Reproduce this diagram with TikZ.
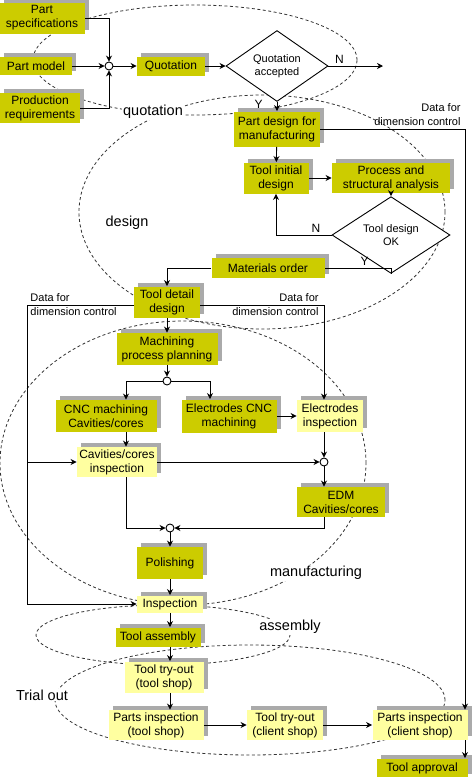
\documentclass[tikz,border=0pt]{standalone}
\usepackage{fontspec}
\setmainfont{Liberation Sans}
\usetikzlibrary{shapes.geometric}
\usetikzlibrary{shadows}
\usetikzlibrary{arrows.meta}

\definecolor{olivebox}{RGB}{204,204,0}
\definecolor{paleyellow}{RGB}{255,255,160}
\definecolor{shadowgrey}{RGB}{170,170,170}

\begin{document}
\begin{tikzpicture}[x=1pt, y=-1pt, ->,
            >={Stealth[length=6pt,width=6pt]},
            line width=0.9pt,
            font=\fontsize{12}{14}\selectfont,
            box/.style = {fill=olivebox,align=center,inner sep=1pt,
                general shadow={fill=shadowgrey,shadow xshift=4pt,shadow yshift=4pt}},
            inbox/.style = {box,fill=paleyellow},
            sz/.style 2 args = {minimum width=#1pt,minimum height=#2pt},
            decide/.style = {diamond,draw,fill=white,inner sep=0pt,align=center,
                font=\fontsize{11}{13}\selectfont},
            junction/.style = {circle,draw,fill=white,inner sep=0pt,minimum size=8pt},
            phase/.style = {-,line width=0.8pt,dash pattern=on 3pt off 2.5pt,black!80},
            phaselabel/.style = {fill=white,inner sep=1pt,font=\fontsize{14.5}{16}\selectfont},
            note/.style = {inner sep=1pt,font=\fontsize{11}{14}\selectfont},
            yn/.style = {inner sep=2pt}]
            \useasboundingbox (0,0) rectangle (474,777);
            % phases
            \draw[phase] (195,60) ellipse [x radius=162pt, y radius=55pt];
            \draw[phase] (262,212) ellipse [x radius=183pt, y radius=117pt];
            \draw[phase] (183,463) ellipse [x radius=183pt, y radius=142pt];
            \draw[phase] (163,635) ellipse [x radius=127pt, y radius=30pt];
            \draw[phase] (250,700) ellipse [x radius=195pt, y radius=55pt];
            \node[phaselabel] (lquot) at (153,112) {quotation};
            \node[phaselabel] (ldes) at (127,223) {design};
            \node[phaselabel] (lman) at (316,573) {manufacturing};
            \node[phaselabel] (lass) at (290,627) {assembly};
            \node[phaselabel] (ltri) at (42,695) {Trial out};
            % quotation
            \node[box,sz={85}{31}] (spec) at (42,18) {Part\\specifications};
            \node[box,sz={72}{18}] (model) at (36,66) {Part model};
            \node[box,sz={80}{30}] (prodreq) at (40,108) {Production\\requirements};
            \node[junction] (jq) at (109,66) {};
            \node[box,sz={68}{19}] (quot) at (171,66) {Quotation};
            \node[decide,sz={102}{64}] (qacc) at (277,66) {Quotation\\accepted};
            \coordinate (qend) at (383,66);
            % design
            \node[box,sz={86}{35}] (pdm) at (277,129) {Part design for\\manufacturing};
            \node[box,sz={65}{31}] (tid) at (276,178) {Tool initial\\design};
            \node[box,sz={118}{30}] (psa) at (391,178) {Process and\\structural analysis};
            \node[decide,sz={118}{52}] (tdok) at (391,235) {Tool design\\OK};
            \node[box,sz={113}{20}] (mat) at (268,268) {Materials order};
            \node[box,sz={66}{31}] (tdd) at (167,302) {Tool detail\\design};
            % manufacturing
            \node[box,sz={101}{32}] (mpp) at (167,349) {Machining\\process planning};
            \node[junction] (jm) at (167,381) {};
            \node[box,sz={101}{32}] (cnc) at (106,416) {CNC machining\\Cavities/cores};
            \node[box,sz={95}{33}] (ecnc) at (229,416) {Electrodes CNC\\machining};
            \node[inbox,sz={66}{32}] (einsp) at (330,416) {Electrodes\\inspection};
            \node[inbox,sz={80}{30}] (ccinsp) at (117,462) {Cavities/cores\\inspection};
            \node[junction] (je) at (324,462) {};
            \node[box,sz={88}{30}] (edm) at (341,502) {EDM\\Cavities/cores};
            \node[junction] (jp) at (170,528) {};
            \node[box,sz={66}{32}] (pol) at (170,563) {Polishing};
            \node[inbox,sz={66}{17}] (insp) at (170,604) {Inspection};
            % assembly and trial out
            \node[box,sz={85}{19}] (tass) at (158,637) {Tool assembly};
            \node[inbox,sz={79}{31}] (tto) at (164,677) {Tool try-out\\(tool shop)};
            \node[inbox,sz={95}{30}] (pit) at (156,725) {Parts inspection\\(tool shop)};
            \node[inbox,sz={76}{30}] (ttc) at (285,725) {Tool try-out\\(client shop)};
            \node[inbox,sz={95}{30}] (pic) at (420,725) {Parts inspection\\(client shop)};
            \node[box,sz={91}{19}] (tapp) at (422,768) {Tool approval};
            % routing columns
            \coordinate (dcr) at (465,0);
            \coordinate (dl) at (27,305);
            \coordinate (dr) at (324,305);
            \coordinate (lc) at (126,0);
            \coordinate (rc) at (210,0);
            \node[note,align=right,anchor=south east] (ndr) at (462,127) {Data for\\dimension control};
            \node[note,align=left,anchor=west] (ndl) at (29,305) {Data for\\dimension control};
            \node[note,align=right,anchor=east] (ndm) at (320,305) {Data for\\dimension control};
            % connectors
            \draw (spec.east) -| (jq.north);
            \draw (prodreq.east) -| (jq.south);
            \path
                (model) edge (jq)
                (jq) edge (quot)
                (quot) edge (qacc)
                (qacc) edge node[pos=.2,above,yn] {N} (qend)
                (qacc) edge node[pos=.25,left=12pt,yn] {Y} (pdm)
                (pdm) edge (tid)
                (tid) edge (psa)
                (psa) edge (tdok)
                (tdd) edge (mpp)
                (mpp) edge (jm)
                (ecnc) edge (einsp)
                (ccinsp) edge (je)
                (jp) edge (pol)
                (pol) edge (insp)
                (pit) edge (ttc)
                (ttc) edge (pic);
            \draw (pdm.east) -| (dcr |- pic.north);
            \draw (dcr |- pic.south) -- (dcr |- tapp.north);
            \draw (tdok.west) -| node[pos=.14,above,yn] {N} (tid.south);
            \draw[-] (tdok.south) |- node[pos=.7,above,yn] {Y} (mat.east);
            \draw (mat.west) -| (tdd.north);
            \draw[-] (tdd.west |- dl) -- (dl);
            \draw (dl) |- (insp.west);
            \draw (dl |- ccinsp.west) -- (ccinsp.west);
            \draw (tdd.east |- dr) -| (dr |- einsp.north);
            \draw (jm.west) -| (lc |- cnc.north);
            \draw (jm.east) -| (rc |- ecnc.north);
            \draw (lc |- cnc.south) -- (lc |- ccinsp.north);
            \draw (lc |- ccinsp.south) |- (jp.west);
            \draw (einsp.south -| dr) -- (je.north);
            \draw (je.south) -- (je |- edm.north);
            \draw (je |- edm.south) |- (jp.east);
            \draw (insp.south) -- (insp.south |- tass.north);
            \draw (insp.south |- tass.south) -- (insp.south |- tto.north);
            \draw (insp.south |- tto.south) -- (insp.south |- pit.north);
        \end{tikzpicture}
\end{document}
